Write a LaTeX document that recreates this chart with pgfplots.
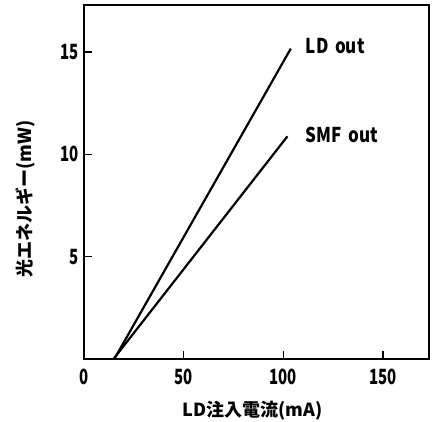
\documentclass[border=0pt]{standalone}
\usepackage{fontspec}
\setmainfont{Noto Sans CJK JP}
\usepackage{pgfplots}
\pgfplotsset{compat=1.18}
\usetikzlibrary{calc}
\begin{document}
\begin{tikzpicture}
\begin{axis}[
  scale only axis,
  width=345bp, height=354bp,
  xmin=0, xmax=173, ymin=0, ymax=17.3,
  xtick={0,50,100,150}, ytick={5,10,15},
  tick pos=left, tick align=inside,
  major tick length=8bp,
  axis line style={line width=1.5pt},
  tick style={line width=1.3pt, black},
  /pgf/number format/assume math mode=true,
  xticklabel={\scalebox{1}[1.4]{\pgfmathprintnumber{\tick}}},
  yticklabel={\scalebox{1}[1.4]{\pgfmathprintnumber{\tick}}},
  ticklabel style={font=\fontsize{15bp}{15bp}\selectfont\bfseries},
  xticklabel style={yshift=-6bp},
  yticklabel style={xshift=-2bp},
  xlabel={LD注入電流(mA)},
  ylabel={光エネルギー(mW)},
  label style={font=\fontsize{18bp}{18bp}\selectfont\bfseries},
  xlabel style={yshift=-10bp, xshift=-4bp},
  ylabel style={yshift=18bp, xshift=-17bp},
]
\addplot[black, line width=2.2pt] coordinates {(15.2,0) (103.7,15.17)};
\addplot[black, line width=2.2pt] coordinates {(14.8,0) (102,10.88)};
\node[anchor=west, font=\fontsize{17bp}{17bp}\selectfont\bfseries] at (axis cs:109.5,15.3) {\scalebox{1}[1.2]{LD\ \,out}};
\node[anchor=west, font=\fontsize{17bp}{17bp}\selectfont\bfseries] at (axis cs:109.5,10.95) {\scalebox{1}[1.2]{SMF\ \,out}};
\end{axis}
\pgfresetboundingbox
\useasboundingbox ($(current axis.south west)+(-84bp,-63bp)$) rectangle ($(current axis.north east)+(3bp,5bp)$);
\end{tikzpicture}
\end{document}
